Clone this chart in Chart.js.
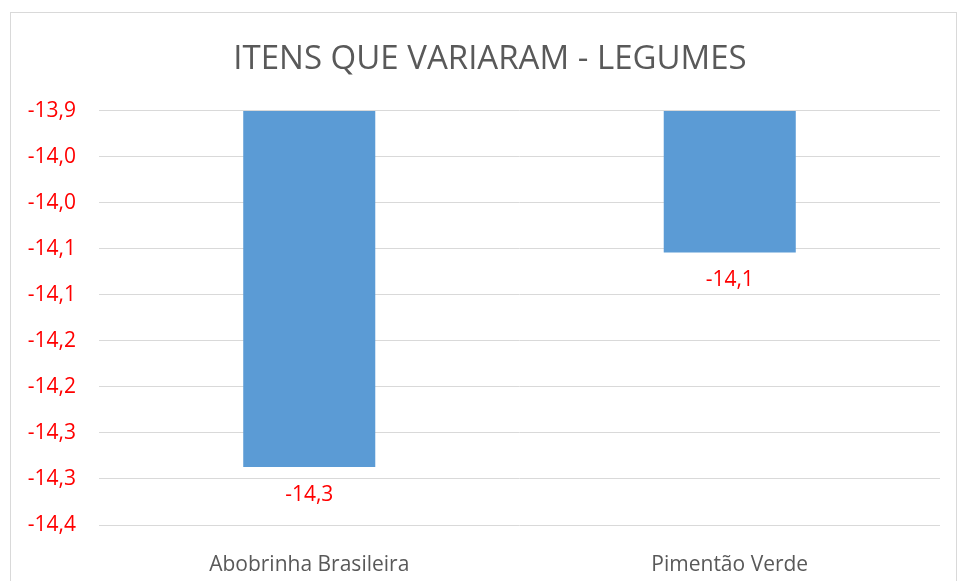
<!DOCTYPE html>
<html>
<head>
<meta charset="utf-8">
<title>Itens que variaram - Legumes</title>
<script src="https://cdn.jsdelivr.net/npm/chart.js@4/dist/chart.umd.min.js"></script>
<style>
	body { margin: 0; background: #fff; }
	canvas { display: block; }
</style>
</head>
<body>
<canvas id="barChart" width="957" height="581"></canvas>
<script>
var chartTitle = "ITENS QUE VARIARAM - LEGUMES";
var categories = [ "Abobrinha Brasileira", "Pimentão Verde" ];
var values = [ -14.287, -14.054 ];
var dataLabels = [ "-14,3", "-14,1" ];
var yMin = -14.35;
var yMax = -13.9;
var yStep = 0.05;
// tick labels from bottom to top, as printed on the axis
var yTickLabels = [ "-14,4", "-14,3", "-14,3", "-14,2", "-14,2", "-14,1", "-14,1", "-14,0", "-14,0", "-13,9" ];

var fontFamily = "'Open Sans', 'Noto Sans', sans-serif";

// frame around the whole chart + white background
var framePlugin = {
	id : 'frame',
	beforeDraw : function(chart) {
		var ctx = chart.ctx;
		ctx.save();
		ctx.fillStyle = '#ffffff';
		ctx.fillRect(0, 0, chart.width, chart.height);
		ctx.strokeStyle = '#d9d9d9';
		ctx.lineWidth = 1;
		ctx.strokeRect(10.5, 12.5, 946, 600);
		ctx.restore();
	},
	// title sits a bit right of the canvas centre in the original
	afterLayout : function(chart) {
		if (chart.titleBlock) {
			chart.titleBlock.left += 20;
			chart.titleBlock.right += 20;
		}
	}
};

// value labels under each bar
var barLabelPlugin = {
	id : 'barLabels',
	afterDatasetsDraw : function(chart) {
		var ctx = chart.ctx;
		var meta = chart.getDatasetMeta(0);
		ctx.save();
		ctx.font = '21px ' + fontFamily;
		ctx.fillStyle = '#ff0000';
		ctx.textAlign = 'center';
		ctx.textBaseline = 'middle';
		meta.data.forEach(function(bar, i) {
			ctx.fillText(dataLabels[i], bar.x, bar.y + 28);
		});
		ctx.restore();
	}
};

var ctxB = document.getElementById("barChart").getContext('2d');
var myBarChart = new Chart(ctxB, {
	type : 'bar',
	data : {
		labels : categories,
		datasets : [ {
			data : values,
			base : yMax,
			backgroundColor : '#5b9bd5',
			borderWidth : 0,
			barPercentage : 0.314,
			categoryPercentage : 1
		} ]
	},
	options : {
		responsive : false,
		animation : false,
		layout : {
			padding : { left : 0, right : 17, top : 0, bottom : 0 }
		},
		plugins : {
			legend : { display : false },
			tooltip : { enabled : false },
			title : {
				display : true,
				text : chartTitle,
				color : '#595959',
				font : { family : fontFamily, size : 33, weight : 'normal' },
				padding : { top : 40, bottom : 31 }
			}
		},
		scales : {
			x : {
				afterFit : function(scale) { scale.height = 56; },
				grid : { display : false },
				border : { display : false },
				ticks : {
					color : '#595959',
					padding : 19,
					font : { family : fontFamily, size : 21 }
				}
			},
			y : {
				min : yMin,
				max : yMax,
				afterFit : function(scale) { scale.width = 99; },
				grid : { color : '#d9d9d9', lineWidth : 1, drawTicks : false },
				border : { display : false },
				ticks : {
					stepSize : yStep,
					padding : 23,
					color : '#ff0000',
					font : { family : fontFamily, size : 21 },
					callback : function(value) {
						var i = Math.round((value - yMin) / yStep);
						return yTickLabels[i];
					}
				}
			}
		}
	},
	plugins : [ framePlugin, barLabelPlugin ]
});
</script>
</body>
</html>
